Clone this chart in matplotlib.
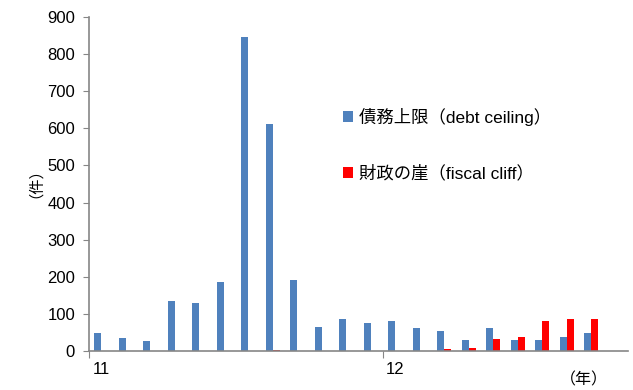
import matplotlib
matplotlib.use("Agg")
import matplotlib.pyplot as plt
import numpy as np

plt.rcParams['font.family'] = ['Liberation Sans', 'Noto Sans CJK JP']

# Monthly article counts, Jan 2011 .. Oct 2012
months = ["2011-01", "2011-02", "2011-03", "2011-04", "2011-05", "2011-06",
          "2011-07", "2011-08", "2011-09", "2011-10", "2011-11", "2011-12",
          "2012-01", "2012-02", "2012-03", "2012-04", "2012-05", "2012-06",
          "2012-07", "2012-08", "2012-09", "2012-10"]
debt_ceiling = [48, 35, 26, 135, 130, 186, 846, 612, 191, 66, 86, 75,
                80, 63, 54, 30, 62, 30, 30, 37, 49, 0]
fiscal_cliff = [0, 0, 0, 0, 0, 0, 0, 2, 0, 0, 0, 0,
                0, 0, 5, 9, 32, 39, 81, 85, 85, 0]
year_labels = ["11", "12"]

blue = "#4F81BD"
red = "#FF0000"
grey = "#868686"

fig = plt.figure(figsize=(6.33, 3.9), dpi=100)
ax = fig.add_axes([89 / 633, 1 - 351 / 390, (628 - 89) / 633, (351 - 17) / 390])

x = np.arange(len(months))
w = 0.29
ax.bar(x - w / 2, debt_ceiling, width=w, color=blue, label="債務上限（debt ceiling）")
ax.bar(x + w / 2, fiscal_cliff, width=w, color=red, label="財政の崖（fiscal cliff）")

ax.set_xlim(-0.5, len(months) - 0.5)
ax.set_ylim(0, 900)
ax.set_yticks(np.arange(0, 901, 100))
ax.tick_params(axis='y', direction='out', length=4, color=grey, labelsize=12, pad=6)

# Year boundaries as ticks, year labels under the first month of each year
year_starts = [i for i, m in enumerate(months) if m.endswith("-01")]
ax.set_xticks([i - 0.5 for i in year_starts])
ax.set_xticklabels([])
ax.tick_params(axis='x', direction='out', length=5, color=grey)
for i, lab in zip(year_starts, year_labels):
    ax.text(i, -30, lab, ha='center', va='top', fontsize=12)

for side in ("top", "right"):
    ax.spines[side].set_visible(False)
for side in ("left", "bottom"):
    ax.spines[side].set_color(grey)
    ax.spines[side].set_linewidth(1.2)

fig.text(28 / 633, 1 - 175 / 390, "（件）", rotation=90, ha='center', va='center', fontsize=11)
fig.text(584 / 633, 1 - 380 / 390, "（年）", ha='center', va='center', fontsize=11.5)

ax.legend(loc='upper left', bbox_to_anchor=((343 - 89) / 539, (351 - 108) / 334),
          frameon=False, fontsize=12.5, borderpad=0, borderaxespad=0,
          handlelength=0.6, handleheight=0.6, handletextpad=0.3, labelspacing=2.25)

fig.savefig("out.png", dpi=100)
